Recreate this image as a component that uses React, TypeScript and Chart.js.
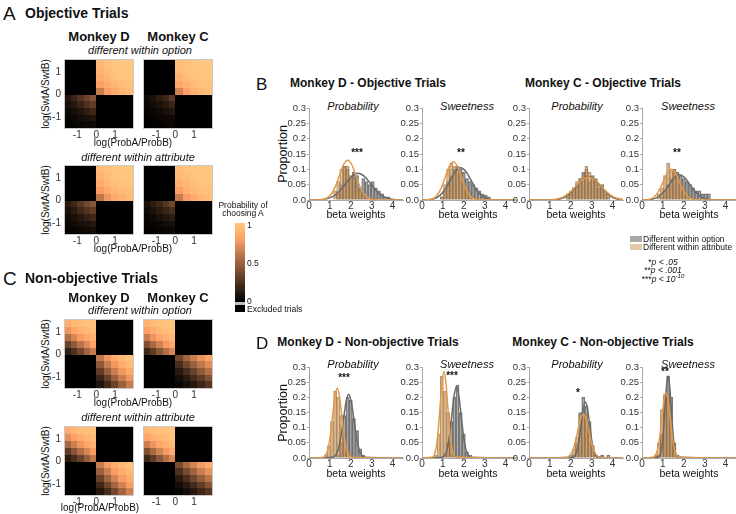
import React, { useEffect, useRef } from "react";
import { Chart, registerables } from "chart.js";
Chart.register(...registerables);

const FONT = "'Liberation Sans', Arial, Helvetica, sans-serif";
const NARROW = "'Liberation Sans Narrow', 'Arial Narrow', 'Liberation Sans', Arial, sans-serif";

// ---------------- heatmap axes (data space) ----------------
const HM_TICKS = [-1, 0, 1];
const HM_X_EDGES = [-1.65, -1.32, -0.99, -0.66, -0.33, 0, 0.39, 0.78, 1.17, 1.56, 1.95];
const HM_Y_EDGES = [-1.5, -1.2, -0.9, -0.6, -0.3, 0, 0.31, 0.62, 0.93, 1.24, 1.55];

// quadrant values (rows top->bottom, cols left->right); excluded quadrants are omitted
const objDOptTR = [[0.93,0.97,0.99,1,1],[0.9,0.95,0.98,0.99,1],[0.86,0.92,0.96,0.98,0.99],[0.8,0.87,0.92,0.95,0.97],[0.62,0.78,0.86,0.91,0.94]];
const objDOptBL = [[0.1,0.18,0.26,0.34,0.42],[0.07,0.12,0.18,0.25,0.3],[0.04,0.07,0.11,0.15,0.19],[0.02,0.04,0.06,0.08,0.1],[0.01,0.02,0.03,0.04,0.05]];
const objCOptTR = [[0.96,0.98,0.99,1,1],[0.94,0.97,0.99,0.99,1],[0.9,0.95,0.97,0.99,0.99],[0.84,0.9,0.94,0.97,0.98],[0.66,0.8,0.88,0.93,0.96]];
const objCOptBL = [[0.05,0.09,0.14,0.2,0.28],[0.03,0.06,0.09,0.13,0.18],[0.02,0.03,0.05,0.08,0.1],[0.01,0.02,0.03,0.04,0.05],[0,0.01,0.01,0.02,0.03]];
const objDAttTR = [[0.94,0.97,0.99,1,1],[0.9,0.95,0.98,0.99,1],[0.85,0.91,0.95,0.97,0.99],[0.78,0.86,0.91,0.94,0.96],[0.6,0.76,0.85,0.9,0.93]];
const objDAttBL = [[0.12,0.2,0.28,0.36,0.43],[0.08,0.13,0.2,0.26,0.31],[0.05,0.08,0.12,0.16,0.2],[0.03,0.05,0.07,0.09,0.11],[0.01,0.02,0.03,0.05,0.06]];
const objCAttTR = [[0.95,0.98,0.99,1,1],[0.93,0.96,0.98,0.99,1],[0.88,0.93,0.96,0.98,0.99],[0.8,0.88,0.93,0.96,0.97],[0.62,0.78,0.86,0.91,0.94]];
const objCAttBL = [[0.08,0.14,0.2,0.27,0.35],[0.05,0.09,0.13,0.18,0.23],[0.03,0.05,0.08,0.11,0.14],[0.02,0.03,0.04,0.06,0.07],[0.01,0.01,0.02,0.03,0.04]];

const nonDOptTL = [[0.88,0.92,0.95,0.97,0.98],[0.75,0.83,0.89,0.93,0.95],[0.55,0.67,0.78,0.85,0.9],[0.33,0.45,0.58,0.7,0.8],[0.15,0.24,0.36,0.5,0.62]];
const nonDOptBR = [[0.6,0.75,0.86,0.93,0.97],[0.45,0.62,0.76,0.86,0.92],[0.3,0.47,0.63,0.76,0.85],[0.18,0.32,0.48,0.63,0.75],[0.1,0.2,0.33,0.48,0.62]];
const nonCOptTL = [[0.9,0.94,0.96,0.98,0.99],[0.8,0.87,0.92,0.95,0.97],[0.62,0.74,0.83,0.89,0.93],[0.4,0.53,0.66,0.77,0.85],[0.2,0.3,0.43,0.56,0.68]];
const nonCOptBR = [[0.35,0.5,0.63,0.74,0.82],[0.22,0.35,0.48,0.6,0.7],[0.13,0.22,0.33,0.45,0.56],[0.07,0.13,0.21,0.3,0.4],[0.03,0.07,0.12,0.19,0.27]];
const nonDAttTL = [[0.86,0.91,0.94,0.96,0.98],[0.72,0.8,0.87,0.91,0.94],[0.52,0.64,0.75,0.83,0.89],[0.3,0.42,0.55,0.67,0.78],[0.13,0.22,0.33,0.47,0.6]];
const nonDAttBR = [[0.62,0.77,0.87,0.93,0.97],[0.48,0.64,0.78,0.87,0.93],[0.33,0.5,0.66,0.78,0.87],[0.2,0.35,0.51,0.66,0.78],[0.11,0.22,0.36,0.51,0.65]];
const nonCAttTL = [[0.92,0.95,0.97,0.98,0.99],[0.82,0.88,0.92,0.95,0.97],[0.63,0.74,0.83,0.89,0.93],[0.4,0.53,0.66,0.77,0.85],[0.2,0.3,0.43,0.56,0.68]];
const nonCAttBR = [[0.38,0.53,0.66,0.77,0.85],[0.24,0.37,0.5,0.63,0.73],[0.13,0.23,0.35,0.47,0.58],[0.07,0.13,0.21,0.31,0.42],[0.03,0.07,0.12,0.19,0.27]];

// ---------------- histogram axes ----------------
const BIN_W = 0.15;
const HX_TICKS = [0, 1, 2, 3, 4];
const HY_TICKS = [0, 0.05, 0.1, 0.15, 0.2, 0.25, 0.3];
const HY_LABELS = ["0.0", "0.05", "0.1", "0.15", "0.2", "0.25", "0.3"];

// B: objective trials (Opt = different within option, gray; Att = different within attribute, tan)
const bDProbOptStart = 1.4;
const bDProbOpt = [0.02,0.05,0.11,0.1,0.07,0.09,0.08,0.04,0.07,0.06,0.05,0.06,0.04,0.03,0.02,0.01,0.01];
const bDProbAttStart = 1.25;
const bDProbAtt = [0.03,0.06,0.1,0.11,0.11,0.08,0.07,0.04,0.03,0.015,0.005];
const bDSwtOptStart = 0.95;
const bDSwtOpt = [0.01,0.03,0.06,0.08,0.1,0.11,0.1,0.09,0.07,0.06,0.05,0.04,0.03,0.02,0.015,0.01];
const bDSwtAttStart = 0.95;
const bDSwtAtt = [0.01,0.05,0.1,0.12,0.11,0.1,0.09,0.06,0.04,0.02,0.01];
const bCProbOptStart = 1.85;
const bCProbOpt = [0.01,0.02,0.04,0.05,0.07,0.09,0.1,0.06,0.08,0.07,0.04,0.05,0.02,0.01];
const bCProbAttStart = 1.85;
const bCProbAtt = [0.02,0.03,0.04,0.06,0.07,0.08,0.11,0.09,0.07,0.06,0.05,0.04,0.03,0.02];
const bCSwtOptStart = 0.95;
const bCSwtOpt = [0.01,0.03,0.05,0.07,0.1,0.09,0.08,0.07,0.06,0.05,0.04,0.03,0.03,0.02,0.02,0.02];
const bCSwtAttStart = 0.8;
const bCSwtAtt = [0.02,0.04,0.08,0.12,0.1,0.1,0.08,0.06,0.04,0.02,0.01];

// D: non-objective trials
const dDProbOptStart = 1.4;
const dDProbOpt = [0.01,0.05,0.14,0.2,0.19,0.13,0.09,0.03,0.01];
const dDProbAttStart = 0.8;
const dDProbAtt = [0.01,0.04,0.12,0.22,0.2,0.14,0.07,0.03,0.01];
const dDSwtOptStart = 1.1;
const dDSwtOpt = [0.01,0.05,0.12,0.2,0.24,0.15,0.08,0.02,0.01];
const dDSwtAttStart = 0.65;
const dDSwtAtt = [0.01,0.08,0.27,0.22,0.15,0.05,0.01];
const dCProbOptStart = 2.15;
const dCProbOpt = [0.01,0.05,0.15,0.2,0.17,0.12,0.04,0.01,0.005,0.01,0,0.01];
const dCProbAttStart = 2.0;
const dCProbAtt = [0.01,0.03,0.07,0.14,0.15,0.14,0.1,0.04,0.01];
const dCSwtOptStart = 0.8;
const dCSwtOpt = [0.01,0.08,0.2,0.27,0.2,0.05,0.01];
const dCSwtAttStart = 0.65;
const dCSwtAtt = [0.01,0.05,0.16,0.21,0.2,0.12,0.05,0.01];

// fitted curves [x, y]
const bDProbOptFit = [[0,0],[0.55,0.001],[0.85,0.004],[1.15,0.012],[1.45,0.028],[1.75,0.053],[2.05,0.077],[2.35,0.087],[2.65,0.077],[2.95,0.053],[3.25,0.028],[3.55,0.012],[3.85,0.004],[4.15,0.001],[4.5,0]];
const bDProbAttFit = [[0,0],[0.6,0.001],[0.85,0.006],[1.05,0.018],[1.25,0.042],[1.45,0.079],[1.65,0.115],[1.85,0.13],[2.05,0.115],[2.25,0.079],[2.45,0.042],[2.65,0.018],[2.85,0.006],[3.1,0.001],[4.5,0]];
const bDSwtOptFit = [[0,0],[0.35,0.0012],[0.6,0.0046],[0.85,0.0142],[1.1,0.0341],[1.35,0.0637],[1.6,0.0927],[1.85,0.105],[2.1,0.0927],[2.35,0.0637],[2.6,0.0341],[2.85,0.0142],[3.1,0.0046],[3.35,0.0012],[4.5,0]];
const bDSwtAttFit = [[0,0],[0.36,0.0014],[0.55,0.0055],[0.74,0.0169],[0.93,0.0406],[1.12,0.0758],[1.31,0.11],[1.5,0.125],[1.69,0.11],[1.88,0.0758],[2.07,0.0406],[2.26,0.0169],[2.45,0.0055],[2.64,0.0014],[4.5,0]];
const bCProbOptFit = [[0,0],[1.2,0.0009],[1.475,0.0034],[1.75,0.0104],[2.025,0.025],[2.3,0.0467],[2.575,0.068],[2.85,0.077],[3.125,0.068],[3.4,0.0467],[3.675,0.025],[3.95,0.0104],[4.225,0.0034],[4.5,0.0009]];
const bCProbAttFit = [[0,0],[1.05,0.0008],[1.35,0.0033],[1.65,0.0101],[1.95,0.0244],[2.25,0.0455],[2.55,0.0662],[2.85,0.075],[3.15,0.0662],[3.45,0.0455],[3.75,0.0244],[4.05,0.0101],[4.35,0.0033],[4.5,0.0017]];
const bCSwtOptFit = [[0,0],[0.3,0.0009],[0.55,0.0036],[0.8,0.0111],[1.05,0.0266],[1.3,0.0497],[1.55,0.0724],[1.8,0.082],[2.05,0.0724],[2.3,0.0497],[2.55,0.0266],[2.8,0.0111],[3.05,0.0036],[3.3,0.0009],[4.5,0]];
const bCSwtAttFit = [[0,0],[0.26,0.0011],[0.45,0.0044],[0.64,0.0135],[0.83,0.0325],[1.02,0.0607],[1.21,0.0883],[1.4,0.1],[1.59,0.0883],[1.78,0.0607],[1.97,0.0325],[2.16,0.0135],[2.35,0.0044],[2.54,0.0011],[4.5,0]];

const dDProbOptFit = [[0,0],[1.15,0.0023],[1.275,0.009],[1.4,0.028],[1.525,0.068],[1.65,0.127],[1.775,0.185],[1.9,0.21],[2.025,0.185],[2.15,0.127],[2.275,0.068],[2.4,0.028],[2.525,0.009],[2.65,0.0023],[4.5,0]];
const dDProbAttFit = [[0,0],[0.69,0.0026],[0.8,0.01],[0.91,0.031],[1.02,0.075],[1.13,0.139],[1.24,0.203],[1.35,0.23],[1.46,0.203],[1.57,0.139],[1.68,0.075],[1.79,0.031],[1.9,0.01],[2.01,0.0026],[4.5,0]];
const dDSwtOptFit = [[0,0],[0.99,0.0026],[1.1,0.0103],[1.21,0.0318],[1.32,0.0763],[1.43,0.1425],[1.54,0.207],[1.65,0.235],[1.76,0.207],[1.87,0.1425],[1.98,0.0763],[2.09,0.0318],[2.2,0.0103],[2.31,0.0026],[4.5,0]];
const dDSwtAttFit = [[0,0],[0.51,0.0032],[0.6,0.0125],[0.69,0.0386],[0.78,0.0925],[0.87,0.173],[0.96,0.2515],[1.05,0.285],[1.14,0.2515],[1.23,0.173],[1.32,0.0925],[1.41,0.0386],[1.5,0.0125],[1.59,0.0032],[4.5,0]];
const dCProbOptFit = [[0,0],[2.1,0.0021],[2.2,0.0081],[2.3,0.025],[2.4,0.06],[2.5,0.112],[2.6,0.163],[2.7,0.185],[2.8,0.163],[2.9,0.112],[3.0,0.06],[3.1,0.025],[3.2,0.0081],[3.3,0.0021],[4.5,0]];
const dCProbAttFit = [[0,0],[1.79,0.0016],[1.925,0.0064],[2.06,0.0196],[2.195,0.047],[2.33,0.088],[2.465,0.128],[2.6,0.145],[2.735,0.128],[2.87,0.088],[3.005,0.047],[3.14,0.0196],[3.275,0.0064],[3.41,0.0016],[4.5,0]];
const dCSwtOptFit = [[0,0],[0.8,0.003],[0.875,0.0119],[0.95,0.0365],[1.025,0.0877],[1.1,0.164],[1.175,0.238],[1.25,0.27],[1.325,0.238],[1.4,0.164],[1.475,0.0877],[1.55,0.0365],[1.625,0.0119],[1.7,0.003],[4.5,0]];
const dCSwtAttFit = [[0,0],[0.55,0.0024],[0.65,0.0094],[0.75,0.029],[0.85,0.07],[0.95,0.13],[1.05,0.19],[1.15,0.215],[1.25,0.19],[1.35,0.13],[1.45,0.07],[1.55,0.029],[1.65,0.0094],[1.75,0.0024],[4.5,0]];

// ---------------- helpers ----------------
function copper(v: number) {
  const r = Math.round(255 * Math.min(1, 1.25 * v));
  const g = Math.round(255 * 0.7812 * v);
  const b = Math.round(255 * 0.4975 * v);
  return `rgb(${r},${g},${b})`;
}

type Q = number[][] | null;
function buildCells(TL: Q, TR: Q, BL: Q, BR: Q) {
  const cells: any[] = [];
  for (let r = 0; r < 10; r++) {
    for (let c = 0; c < 10; c++) {
      const quad = r < 5 ? (c < 5 ? TL : TR) : (c < 5 ? BL : BR);
      const v = quad ? quad[r % 5][c % 5] : null;
      const x0 = HM_X_EDGES[c], x1 = HM_X_EDGES[c + 1];
      const y1 = HM_Y_EDGES[10 - r], y0 = HM_Y_EDGES[9 - r];
      cells.push({ x: (x0 + x1) / 2, y: (y0 + y1) / 2, x0, x1, y0, y1, v });
    }
  }
  return cells;
}

const heatPlugin = {
  id: "heatCells",
  beforeDatasetsDraw(chart: any) {
    const { ctx, chartArea, scales } = chart;
    const xs = scales.x, ys = scales.y;
    const cells = chart.data.datasets[0].data;
    ctx.save();
    for (const c of cells) {
      const l = Math.round(xs.getPixelForValue(c.x0));
      const r = Math.round(xs.getPixelForValue(c.x1));
      const t = Math.round(ys.getPixelForValue(c.y1));
      const b = Math.round(ys.getPixelForValue(c.y0));
      ctx.fillStyle = c.v == null ? "#000" : copper(c.v);
      ctx.fillRect(l, t, r - l, b - t);
    }
    ctx.strokeStyle = "#c9c9c9";
    ctx.lineWidth = 1;
    ctx.strokeRect(chartArea.left - 0.5, chartArea.top - 0.5, chartArea.width + 1, chartArea.height + 1);
    ctx.restore();
  },
};

function Heatmap({ left, top, cells, showY }: { left: number; top: number; cells: any[]; showY: boolean }) {
  const ref = useRef<HTMLCanvasElement>(null);
  const W = 68, H = 68, YW = showY ? 14 : 0, PT = 10, PL = showY ? 0 : 2, XH = 14;
  const cw = PL + YW + W + 2, ch = PT + H + XH;
  useEffect(() => {
    const chart = new Chart(ref.current!, {
      type: "scatter",
      data: { datasets: [{ data: cells, pointRadius: 0 } as any] },
      options: {
        animation: false,
        responsive: false,
        devicePixelRatio: 1,
        layout: { padding: { top: PT, left: PL, right: 2, bottom: 0 } },
        plugins: { legend: { display: false }, tooltip: { enabled: false } },
        scales: {
          x: {
            type: "linear", min: HM_X_EDGES[0], max: HM_X_EDGES[10],
            grid: { display: false, drawTicks: false, tickLength: 0 }, border: { display: false },
            ticks: { color: "#333", font: { size: 10, family: FONT }, padding: 1, autoSkip: false, maxRotation: 0, callback: (v: any) => String(v) },
            afterBuildTicks: (s: any) => { s.ticks = HM_TICKS.map((v) => ({ value: v })); },
            afterFit: (s: any) => { s.height = XH; },
          },
          y: {
            type: "linear", min: HM_Y_EDGES[0], max: HM_Y_EDGES[10], display: showY,
            grid: { display: false, drawTicks: false, tickLength: 0 }, border: { display: false },
            ticks: { color: "#333", font: { size: 10, family: FONT }, padding: 4, autoSkip: false, callback: (v: any) => String(v) },
            afterBuildTicks: (s: any) => { s.ticks = HM_TICKS.map((v) => ({ value: v })); },
            afterFit: (s: any) => { s.width = YW; },
          },
        },
      } as any,
      plugins: [heatPlugin],
    });
    return () => chart.destroy();
  }, []);
  return (
    <canvas ref={ref} width={cw} height={ch}
      style={{ position: "absolute", left: left - YW - PL, top: top - PT, width: cw, height: ch }} />
  );
}

function toBars(start: number, arr: number[]) {
  return arr.map((v, i) => ({ x: +(start + i * BIN_W).toFixed(3), y: v })).filter((p) => p.y > 0);
}

function Hist({ x0, top, h, opt, optStart, att, attStart, optFit, attFit }: any) {
  const ref = useRef<HTMLCanvasElement>(null);
  const YW = 26, PT = 8, PR = 3, XH = 14, W = 94;
  const cw = YW + W + PR, ch = PT + h + XH;
  useEffect(() => {
    const chart = new Chart(ref.current!, {
      type: "bar",
      data: {
        datasets: [
          { type: "line", data: optFit.map(([x, y]: number[]) => ({ x, y })), borderColor: "#6a6a6a", borderWidth: 1.5, pointRadius: 0, cubicInterpolationMode: "monotone", order: 1 },
          { type: "line", data: attFit.map(([x, y]: number[]) => ({ x, y })), borderColor: "#e39a48", borderWidth: 1.5, pointRadius: 0, cubicInterpolationMode: "monotone", order: 0 },
          { type: "bar", data: toBars(optStart, opt), backgroundColor: "rgba(120,120,120,0.55)", borderColor: "rgba(80,80,80,0.75)", borderWidth: 0.8, grouped: false, barPercentage: 1, categoryPercentage: 1, order: 3 },
          { type: "bar", data: toBars(attStart, att), backgroundColor: "rgba(214,160,100,0.55)", borderColor: "rgba(150,105,60,0.7)", borderWidth: 0.8, grouped: false, barPercentage: 1, categoryPercentage: 1, order: 2 },
        ] as any,
      },
      options: {
        animation: false,
        responsive: false,
        devicePixelRatio: 1,
        layout: { padding: { top: PT, right: PR, left: 0, bottom: 0 } },
        plugins: { legend: { display: false }, tooltip: { enabled: false } },
        scales: {
          x: {
            type: "linear", min: 0, max: 4.5, offset: false,
            grid: { display: false, offset: false, drawTicks: false, tickLength: 0 }, border: { display: true, color: "#a8a8a8", width: 1 },
            ticks: { color: "#333", font: { size: 10, family: FONT }, padding: 0, autoSkip: false, maxRotation: 0, callback: (v: any) => String(v) },
            afterBuildTicks: (s: any) => { s.ticks = HX_TICKS.map((v) => ({ value: v })); },
            afterFit: (s: any) => { s.height = XH; },
          },
          y: {
            type: "linear", min: 0, max: 0.3,
            grid: { display: true, drawOnChartArea: false, drawTicks: true, tickLength: 2, color: "#a8a8a8" },
            border: { display: true, color: "#a8a8a8", width: 1 },
            ticks: { color: "#333", font: { size: 9.5, family: NARROW }, padding: 1, autoSkip: false, callback: (_v: any, i: number) => HY_LABELS[i] },
            afterBuildTicks: (s: any) => { s.ticks = HY_TICKS.map((v) => ({ value: v })); },
            afterFit: (s: any) => { s.width = YW; },
          },
        },
      } as any,
    });
    return () => chart.destroy();
  }, []);
  return (
    <canvas ref={ref} width={cw} height={ch}
      style={{ position: "absolute", left: x0 - YW, top: top - PT, width: cw, height: ch }} />
  );
}

function T({ x, y, children, size = 10, bold = false, italic = false, anchor = "middle", rotate = 0, family = FONT }: any) {
  const tx = anchor === "middle" ? "-50%" : anchor === "end" ? "-100%" : "0";
  return (
    <div style={{
      position: "absolute", left: x, top: y, whiteSpace: "nowrap", fontSize: size, lineHeight: 1,
      fontWeight: bold ? 700 : 400, fontStyle: italic ? "italic" : "normal", fontFamily: family, color: "#111",
      transform: `translate(${tx}, -50%)${rotate ? ` rotate(${rotate}deg)` : ""}`,
    }}>{children}</div>
  );
}

const HIST_X0 = [309, 422, 529, 642];

export default function App() {
  return (
    <div style={{ position: "absolute", left: 0, top: 0, width: 736, height: 514, overflow: "hidden", background: "#fff", fontFamily: FONT }}>
      {/* ---------- A ---------- */}
      <T x={3} y={13} size={19} anchor="start">A</T>
      <T x={25} y={13} size={14} bold anchor="start">Objective Trials</T>
      <T x={99} y={36} size={13} bold>Monkey D</T>
      <T x={178} y={36} size={13} bold>Monkey C</T>
      <T x={140} y={50} size={11} italic>different within option</T>
      <T x={46} y={94} size={10} rotate={-90}>log(SwtA/SwtB)</T>
      <Heatmap left={65} top={60} showY cells={buildCells(null, objDOptTR, objDOptBL, null)} />
      <Heatmap left={144} top={60} showY={false} cells={buildCells(null, objCOptTR, objCOptBL, null)} />
      <T x={133} y={143} size={10}>log(ProbA/ProbB)</T>
      <T x={138} y={157} size={11} italic>different within attribute</T>
      <T x={46} y={200} size={10} rotate={-90}>log(SwtA/SwtB)</T>
      <Heatmap left={65} top={166} showY cells={buildCells(null, objDAttTR, objDAttBL, null)} />
      <Heatmap left={144} top={166} showY={false} cells={buildCells(null, objCAttTR, objCAttBL, null)} />
      <T x={133} y={249} size={10}>log(ProbA/ProbB)</T>

      {/* ---------- colorbar ---------- */}
      <T x={243} y={205} size={8.5}>Probability of</T>
      <T x={243} y={213} size={8.5}>choosing A</T>
      <div style={{ position: "absolute", left: 235, top: 223, width: 10, height: 79,
        background: "linear-gradient(to top, rgb(0,0,0) 0%, rgb(255,159,101) 80%, rgb(255,199,127) 100%)" }} />
      <div style={{ position: "absolute", left: 235, top: 302, width: 10, height: 3, background: "#bdbdbd" }} />
      <div style={{ position: "absolute", left: 235, top: 305, width: 10, height: 7, background: "#000" }} />
      <T x={247} y={225} size={8.5} anchor="start">1</T>
      <T x={247} y={263} size={8.5} anchor="start">0.5</T>
      <T x={247} y={301} size={8.5} anchor="start">0</T>
      <T x={247} y={309} size={8.5} anchor="start">Excluded trials</T>

      {/* ---------- C ---------- */}
      <T x={3} y={278} size={19} anchor="start">C</T>
      <T x={25} y={278} size={14} bold anchor="start">Non-objective Trials</T>
      <T x={99} y={297} size={13} bold>Monkey D</T>
      <T x={178} y={297} size={13} bold>Monkey C</T>
      <T x={140} y={310} size={11} italic>different within option</T>
      <T x={46} y={354} size={10} rotate={-90}>log(SwtA/SwtB)</T>
      <Heatmap left={65} top={320} showY cells={buildCells(nonDOptTL, null, null, nonDOptBR)} />
      <Heatmap left={144} top={320} showY={false} cells={buildCells(nonCOptTL, null, null, nonCOptBR)} />
      <T x={133} y={403} size={10}>log(ProbA/ProbB)</T>
      <T x={138} y={417} size={11} italic>different within attribute</T>
      <T x={46} y={461} size={10} rotate={-90}>log(SwtA/SwtB)</T>
      <Heatmap left={65} top={427} showY cells={buildCells(nonDAttTL, null, null, nonDAttBR)} />
      <Heatmap left={144} top={427} showY={false} cells={buildCells(nonCAttTL, null, null, nonCAttBR)} />
      <T x={100} y={508} size={10}>log(ProbA/ProbB)</T>

      {/* ---------- B ---------- */}
      <T x={256} y={84} size={17} anchor="start">B</T>
      <T x={368} y={83} size={12} bold>Monkey D - Objective Trials</T>
      <T x={603} y={83} size={12} bold>Monkey C - Objective Trials</T>
      <T x={353} y={106} size={11} italic>Probability</T>
      <T x={467} y={106} size={11} italic>Sweetness</T>
      <T x={577} y={106} size={11} italic>Probability</T>
      <T x={688} y={106} size={11} italic>Sweetness</T>
      <T x={283} y={154} size={12.5} rotate={-90}>Proportion</T>
      <Hist x0={HIST_X0[0]} top={108} h={92} opt={bDProbOpt} optStart={bDProbOptStart} att={bDProbAtt} attStart={bDProbAttStart} optFit={bDProbOptFit} attFit={bDProbAttFit} />
      <Hist x0={HIST_X0[1]} top={108} h={92} opt={bDSwtOpt} optStart={bDSwtOptStart} att={bDSwtAtt} attStart={bDSwtAttStart} optFit={bDSwtOptFit} attFit={bDSwtAttFit} />
      <Hist x0={HIST_X0[2]} top={108} h={92} opt={bCProbOpt} optStart={bCProbOptStart} att={bCProbAtt} attStart={bCProbAttStart} optFit={bCProbOptFit} attFit={bCProbAttFit} />
      <Hist x0={HIST_X0[3]} top={108} h={92} opt={bCSwtOpt} optStart={bCSwtOptStart} att={bCSwtAtt} attStart={bCSwtAttStart} optFit={bCSwtOptFit} attFit={bCSwtAttFit} />
      <T x={356} y={214} size={10.5}>beta weights</T>
      <T x={468} y={214} size={10.5}>beta weights</T>
      <T x={576} y={214} size={10.5}>beta weights</T>
      <T x={689} y={214} size={10.5}>beta weights</T>
      <T x={357} y={153} size={10} bold>***</T>
      <T x={461} y={153} size={10} bold>**</T>
      <T x={677} y={153} size={10} bold>**</T>

      {/* ---------- legend ---------- */}
      <div style={{ position: "absolute", left: 630, top: 236, width: 12, height: 6, background: "#a9a9a9" }} />
      <T x={643} y={239} size={8.5} anchor="start">Different within option</T>
      <div style={{ position: "absolute", left: 630, top: 244, width: 12, height: 6, background: "#e6c7a6" }} />
      <T x={643} y={247} size={8.5} anchor="start">Different within attribute</T>
      <T x={663} y={262} size={8.5}><span>*</span><i>p &lt; .05</i></T>
      <T x={663} y={270} size={8.5}><span>**</span><i>p &lt; .001</i></T>
      <T x={663} y={278} size={8.5}><span>***</span><i>p &lt; 10<sup style={{ fontSize: 6 }}>-10</sup></i></T>

      {/* ---------- D ---------- */}
      <T x={256} y={343} size={17} anchor="start">D</T>
      <T x={368} y={342} size={12} bold>Monkey D - Non-objective Trials</T>
      <T x={603} y={342} size={12} bold>Monkey C - Non-objective Trials</T>
      <T x={353} y={364} size={11} italic>Probability</T>
      <T x={467} y={364} size={11} italic>Sweetness</T>
      <T x={577} y={364} size={11} italic>Probability</T>
      <T x={688} y={364} size={11} italic>Sweetness</T>
      <T x={283} y={413} size={12.5} rotate={-90}>Proportion</T>
      <Hist x0={HIST_X0[0]} top={367} h={91} opt={dDProbOpt} optStart={dDProbOptStart} att={dDProbAtt} attStart={dDProbAttStart} optFit={dDProbOptFit} attFit={dDProbAttFit} />
      <Hist x0={HIST_X0[1]} top={367} h={91} opt={dDSwtOpt} optStart={dDSwtOptStart} att={dDSwtAtt} attStart={dDSwtAttStart} optFit={dDSwtOptFit} attFit={dDSwtAttFit} />
      <Hist x0={HIST_X0[2]} top={367} h={91} opt={dCProbOpt} optStart={dCProbOptStart} att={dCProbAtt} attStart={dCProbAttStart} optFit={dCProbOptFit} attFit={dCProbAttFit} />
      <Hist x0={HIST_X0[3]} top={367} h={91} opt={dCSwtOpt} optStart={dCSwtOptStart} att={dCSwtAtt} attStart={dCSwtAttStart} optFit={dCSwtOptFit} attFit={dCSwtAttFit} />
      <T x={356} y={473} size={10.5}>beta weights</T>
      <T x={468} y={473} size={10.5}>beta weights</T>
      <T x={576} y={473} size={10.5}>beta weights</T>
      <T x={689} y={473} size={10.5}>beta weights</T>
      <T x={344} y={378} size={10} bold>***</T>
      <T x={452} y={376} size={10} bold>***</T>
      <T x={578} y={393} size={10} bold>*</T>
      <T x={665} y={372} size={10} bold>**</T>
    </div>
  );
}
